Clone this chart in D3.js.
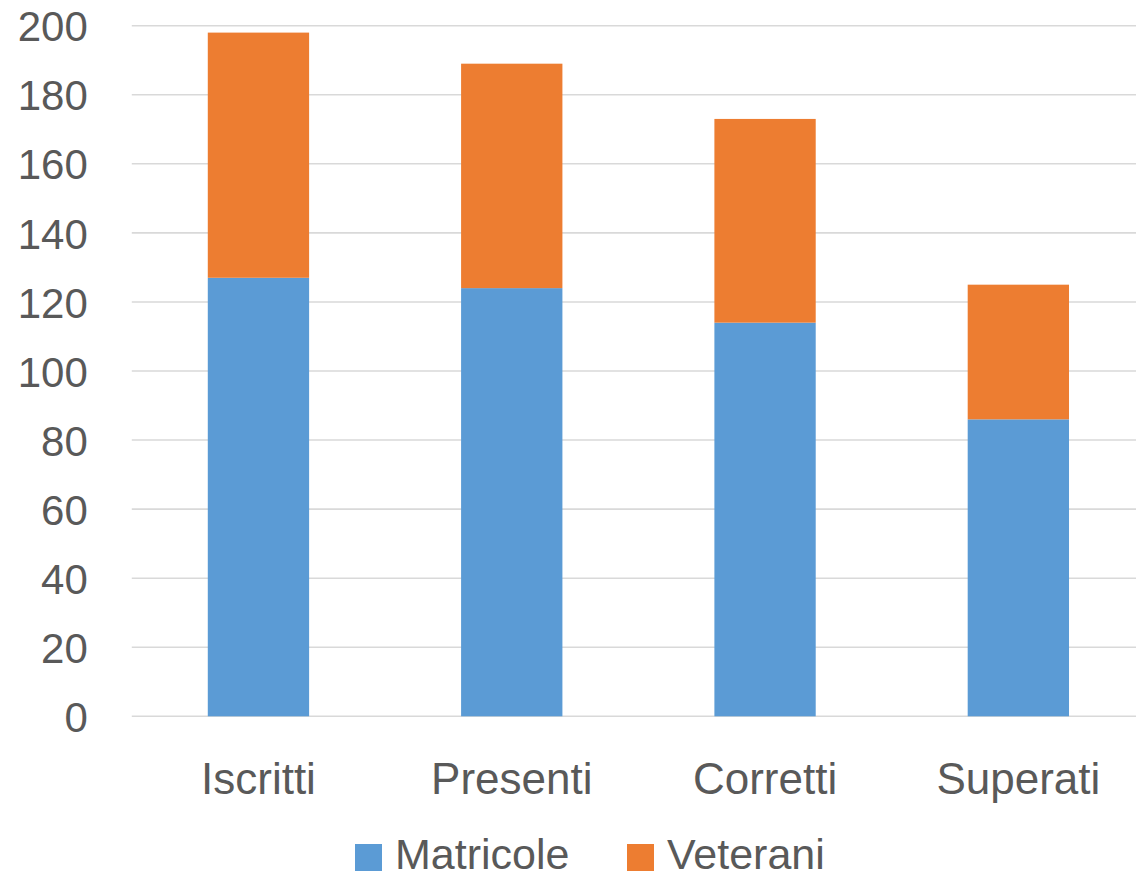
<!DOCTYPE html>
<html><head><meta charset="utf-8">
<script src="https://cdn.jsdelivr.net/npm/d3@7"></script>
<style>body{margin:0;background:#fff}svg{display:block}text{font-family:"Liberation Sans",Arial,sans-serif;fill:#595959}</style>
</head><body>
<script>
const categories = ["Iscritti","Presenti","Corretti","Superati"];
const matricole = [127,124,114,86];
const veterani = [71,65,59,39];
const seriesNames = ["Matricole","Veterani"];
const seriesColors = ["#5B9BD5","#ED7D31"];
const yTicks = [0,20,40,60,80,100,120,140,160,180,200];

const W=1136,H=879;
const svg=d3.select("body").append("svg").attr("width",W).attr("height",H);
const x=d3.scaleBand().domain(categories).range([131.8,1145]).paddingInner(0.6).paddingOuter(0.3);
const y=d3.scaleLinear().domain([0,200]).range([716.3,25.7]);

const rows=categories.map((c,i)=>({cat:c,Matricole:matricole[i],Veterani:veterani[i]}));
const stacked=d3.stack().keys(seriesNames)(rows);

svg.append("g").selectAll("line").data(yTicks).join("line")
  .attr("x1",131.8).attr("x2",W).attr("y1",d=>y(d)).attr("y2",d=>y(d))
  .attr("stroke","#D9D9D9").attr("stroke-width",1.6);

const yAxis=svg.append("g").attr("transform","translate(131.8,0)")
  .call(d3.axisLeft(y).tickValues(yTicks).tickSize(0).tickPadding(44));
yAxis.select(".domain").remove();
yAxis.selectAll("text").style("font-size","42px").attr("fill","#595959").attr("dy","0.36em");

svg.append("g").selectAll("g").data(stacked).join("g")
  .attr("fill",(d,i)=>seriesColors[i])
  .selectAll("rect").data(d=>d).join("rect")
  .attr("x",d=>x(d.data.cat)).attr("width",x.bandwidth())
  .attr("y",d=>y(d[1])).attr("height",d=>y(d[0])-y(d[1]));

const xAxis=svg.append("g").attr("transform","translate(0,716.3)")
  .call(d3.axisBottom(x).tickSize(0).tickPadding(46));
xAxis.select(".domain").remove();
xAxis.selectAll("text").style("font-size","44px").attr("fill","#595959");

const legend=svg.append("g");
const legX=[355,627];
seriesNames.forEach((n,i)=>{
  legend.append("rect").attr("x",legX[i]).attr("y",844).attr("width",27).attr("height",27).attr("fill",seriesColors[i]);
  legend.append("text").attr("x",legX[i]+40).attr("y",869).style("font-size","43px").text(n);
});
</script>
</body></html>
